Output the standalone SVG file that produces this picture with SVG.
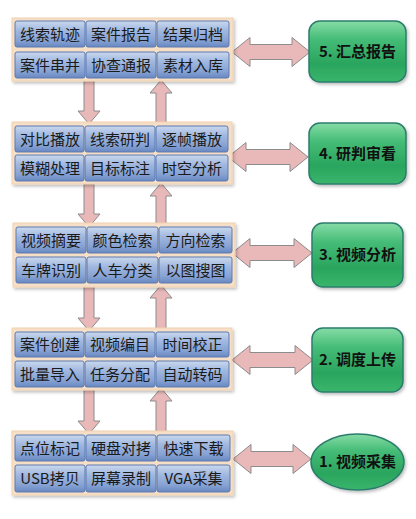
<svg xmlns="http://www.w3.org/2000/svg" width="416" height="519" viewBox="0 0 416 519">
<defs>
<linearGradient id="btn" x1="0" y1="0" x2="0" y2="1">
<stop offset="0" stop-color="#cad8ee"/>
<stop offset="0.35" stop-color="#a2b9e0"/>
<stop offset="0.75" stop-color="#86a2d3"/>
<stop offset="1" stop-color="#6888c2"/>
</linearGradient>
<linearGradient id="grn" x1="0" y1="0" x2="0" y2="1">
<stop offset="0" stop-color="#86dca6"/>
<stop offset="0.3" stop-color="#45bc77"/>
<stop offset="0.7" stop-color="#2aa55e"/>
<stop offset="1" stop-color="#3ab56c"/>
</linearGradient>
<filter id="sh" x="-10%" y="-10%" width="125%" height="130%">
<feDropShadow dx="1.5" dy="2" stdDeviation="1.5" flood-color="#000" flood-opacity="0.25"/>
</filter>
</defs>
<style>
.panel{fill:#f6dfc6;stroke:#efd2b2;stroke-width:1}
.btn{fill:url(#btn);stroke:#5c7ab0;stroke-width:1}
.bt{font-family:"Noto Sans CJK SC","Noto Sans",sans-serif;font-size:15px;fill:#1a1a1a;text-anchor:middle}
.gn{fill:url(#grn);stroke:#2c7d6d;stroke-width:1.5}
.gt{font-family:"Noto Sans CJK SC","Noto Sans",sans-serif;font-size:15px;font-weight:bold;fill:#111;text-anchor:middle}
.arr{fill:#e9b8b8;stroke:#8c8c8c;stroke-width:1}
</style>

<g id="connectors">
<path class="arr" d="M232,52 L250,37.5 L250,44.5 L292,44.5 L292,37.5 L310,52 L292,66.5 L292,59.5 L250,59.5 L250,66.5 Z"/>
<path class="arr" d="M228,157 L246,142.5 L246,149.5 L290,149.5 L290,142.5 L308,157 L290,171.5 L290,164.5 L246,164.5 L246,171.5 Z"/>
<path class="arr" d="M232,253 L250,238.5 L250,245.5 L294,245.5 L294,238.5 L312,253 L294,267.5 L294,260.5 L250,260.5 L250,267.5 Z"/>
<path class="arr" d="M232,360 L250,345.5 L250,352.5 L295,352.5 L295,345.5 L313,360 L295,374.5 L295,367.5 L250,367.5 L250,374.5 Z"/>
<path class="arr" d="M233,459 L251,444.5 L251,451.5 L293,451.5 L293,444.5 L311,459 L293,473.5 L293,466.5 L251,466.5 L251,473.5 Z"/>
<path class="arr" d="M84,79 L94,79 L94,111 L100,111 L89,124 L78,111 L84,111 Z"/>
<path class="arr" d="M84,184 L94,184 L94,214 L100,214 L89,227 L78,214 L84,214 Z"/>
<path class="arr" d="M84,285 L94,285 L94,318 L100,318 L89,331 L78,318 L84,318 Z"/>
<path class="arr" d="M84,388 L94,388 L94,421 L100,421 L89,434 L78,421 L84,421 Z"/>
<path class="arr" d="M161,80 L172,93 L166,93 L166,125 L156,125 L156,93 L150,93 Z"/>
<path class="arr" d="M161,183 L172,196 L166,196 L166,226 L156,226 L156,196 L150,196 Z"/>
<path class="arr" d="M161,285 L172,298 L166,298 L166,331 L156,331 L156,298 L150,298 Z"/>
<path class="arr" d="M161,388 L172,401 L166,401 L166,434 L156,434 L156,401 L150,401 Z"/>
</g>

<g id="group5">
<rect class="panel" x="12" y="18" width="221" height="63" filter="url(#sh)"/>
<rect class="btn" x="15" y="21" width="70" height="26" rx="2"/>
<rect class="btn" x="86" y="21" width="70" height="26" rx="2"/>
<rect class="btn" x="157" y="21" width="72" height="26" rx="2"/>
<rect class="btn" x="15" y="52" width="70" height="26" rx="2"/>
<rect class="btn" x="86" y="52" width="70" height="26" rx="2"/>
<rect class="btn" x="157" y="52" width="72" height="26" rx="2"/>
<text class="bt" x="50" y="39.5">线索轨迹</text>
<text class="bt" x="121" y="39.5">案件报告</text>
<text class="bt" x="193" y="39.5">结果归档</text>
<text class="bt" x="50" y="70.5">案件串并</text>
<text class="bt" x="121" y="70.5">协查通报</text>
<text class="bt" x="193" y="70.5">素材入库</text>
</g>

<g id="group4">
<rect class="panel" x="12" y="122" width="220" height="62" filter="url(#sh)"/>
<rect class="btn" x="15" y="126" width="69" height="26" rx="2"/>
<rect class="btn" x="85" y="126" width="70" height="26" rx="2"/>
<rect class="btn" x="156" y="126" width="72" height="26" rx="2"/>
<rect class="btn" x="15" y="155" width="69" height="26" rx="2"/>
<rect class="btn" x="85" y="155" width="70" height="26" rx="2"/>
<rect class="btn" x="156" y="155" width="72" height="26" rx="2"/>
<text class="bt" x="50" y="144.5">对比播放</text>
<text class="bt" x="120" y="144.5">线索研判</text>
<text class="bt" x="192" y="144.5">逐帧播放</text>
<text class="bt" x="50" y="173.5">模糊处理</text>
<text class="bt" x="120" y="173.5">目标标注</text>
<text class="bt" x="192" y="173.5">时空分析</text>
</g>

<g id="group3">
<rect class="panel" x="13" y="223" width="222" height="64" filter="url(#sh)"/>
<rect class="btn" x="16" y="227" width="70" height="26" rx="2"/>
<rect class="btn" x="87" y="227" width="71" height="26" rx="2"/>
<rect class="btn" x="159" y="227" width="73" height="26" rx="2"/>
<rect class="btn" x="16" y="257" width="70" height="26" rx="2"/>
<rect class="btn" x="87" y="257" width="71" height="26" rx="2"/>
<rect class="btn" x="159" y="257" width="73" height="26" rx="2"/>
<text class="bt" x="51" y="245.5">视频摘要</text>
<text class="bt" x="122.5" y="245.5">颜色检索</text>
<text class="bt" x="195.5" y="245.5">方向检索</text>
<text class="bt" x="51" y="275.5">车牌识别</text>
<text class="bt" x="122.5" y="275.5">人车分类</text>
<text class="bt" x="195.5" y="275.5">以图搜图</text>
</g>

<g id="group2">
<rect class="panel" x="12" y="328" width="220" height="62" filter="url(#sh)"/>
<rect class="btn" x="15" y="332" width="69" height="25" rx="2"/>
<rect class="btn" x="85" y="332" width="70" height="25" rx="2"/>
<rect class="btn" x="156" y="332" width="73" height="25" rx="2"/>
<rect class="btn" x="15" y="361" width="69" height="26" rx="2"/>
<rect class="btn" x="85" y="361" width="70" height="26" rx="2"/>
<rect class="btn" x="156" y="361" width="73" height="26" rx="2"/>
<text class="bt" x="50" y="350">案件创建</text>
<text class="bt" x="120" y="350">视频编目</text>
<text class="bt" x="192.5" y="350">时间校正</text>
<text class="bt" x="50" y="379.5">批量导入</text>
<text class="bt" x="120" y="379.5">任务分配</text>
<text class="bt" x="192.5" y="379.5">自动转码</text>
</g>

<g id="group1">
<rect class="panel" x="12" y="431" width="221" height="64" filter="url(#sh)"/>
<rect class="btn" x="15" y="435" width="70" height="26" rx="2"/>
<rect class="btn" x="86" y="435" width="70" height="26" rx="2"/>
<rect class="btn" x="157" y="435" width="73" height="26" rx="2"/>
<rect class="btn" x="15" y="465" width="70" height="27" rx="2"/>
<rect class="btn" x="86" y="465" width="70" height="27" rx="2"/>
<rect class="btn" x="157" y="465" width="73" height="27" rx="2"/>
<text class="bt" x="50" y="453.5">点位标记</text>
<text class="bt" x="121" y="453.5">硬盘对拷</text>
<text class="bt" x="193.5" y="453.5">快速下载</text>
<text class="bt" x="50" y="484">USB拷贝</text>
<text class="bt" x="121" y="484">屏幕录制</text>
<text class="bt" x="193.5" y="484">VGA采集</text>
</g>

<g id="node5">
<rect class="gn" x="309" y="21" width="97" height="61" rx="11" filter="url(#sh)"/>
<text class="gt" x="357.5" y="57">5. 汇总报告</text>
</g>
<g id="node4">
<rect class="gn" x="309" y="123" width="97" height="61" rx="11" filter="url(#sh)"/>
<text class="gt" x="357.5" y="159">4. 研判审看</text>
</g>
<g id="node3">
<rect class="gn" x="312" y="223" width="91" height="64" rx="11" filter="url(#sh)"/>
<text class="gt" x="357.5" y="260">3. 视频分析</text>
</g>
<g id="node2">
<rect class="gn" x="312" y="328" width="91" height="64" rx="11" filter="url(#sh)"/>
<text class="gt" x="357.5" y="365">2. 调度上传</text>
</g>
<g id="node1">
<ellipse class="gn" cx="357.5" cy="462" rx="46.5" ry="28" filter="url(#sh)"/>
<text class="gt" x="357.5" y="467">1. 视频采集</text>
</g>
</svg>
